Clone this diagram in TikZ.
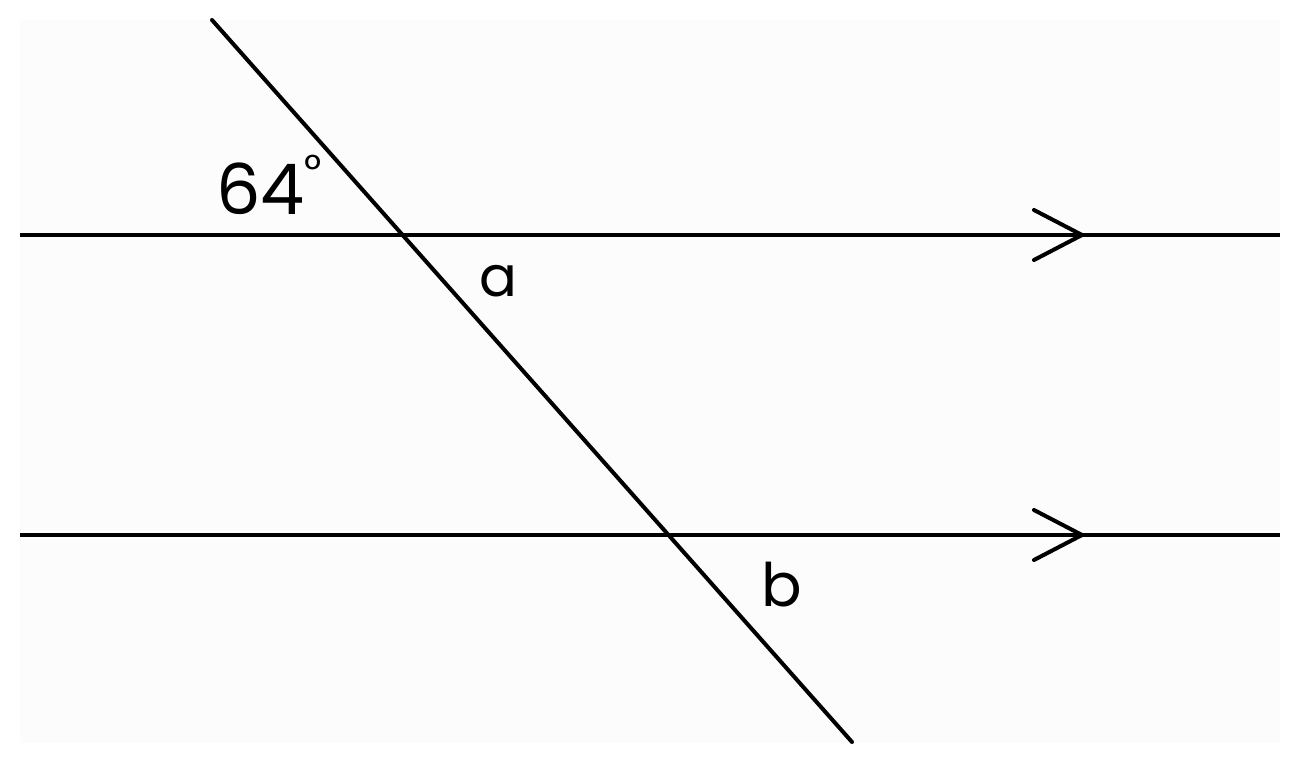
\documentclass[tikz,border=0pt]{standalone}
\usepackage{fontspec}
\setmainfont{Poppins}
\begin{document}
\begin{tikzpicture}[x=1pt,y=-1pt,
  line/.style={line width=4pt,black},
  lbl/.style={inner sep=0pt,anchor=center,font=\fontsize{60}{64}\selectfont}]
\useasboundingbox (0,0) rectangle (1300,765);
\fill[white] (0,0) rectangle (1300,765);
\fill[black!1] (20,20) rectangle (1280,743);
% parallel lines
\coordinate (l1a) at (20,235);
\coordinate (l1b) at (1280,235);
\coordinate (l2a) at (20,535);
\coordinate (l2b) at (1280,535);
\draw[line] (l1a) -- (l1b);
\draw[line] (l2a) -- (l2b);
% chevrons
\coordinate (t1) at (1082,235);
\coordinate (t2) at (1082,535);
\draw[line,line cap=round,line join=miter] (1034,210) -- (t1) -- (1034,260);
\draw[line,line cap=round,line join=miter] (1034,510) -- (t2) -- (1034,560);
% transversal
\coordinate (ta) at (212,20);
\coordinate (tb) at (852,742);
\draw[line,line cap=round] (ta) -- (tb);
% labels
\node[lbl,anchor=base west,font=\fontsize{70}{74}\selectfont] (ang) at (216,214) {64\raisebox{0.42em}{\fontsize{42}{46}\selectfont °}};
\node[lbl,font=\fontsize{56}{60}\selectfont] (a) at (498,281) {a};
\node[lbl] (b) at (782,585) {b};
\end{tikzpicture}
\end{document}
